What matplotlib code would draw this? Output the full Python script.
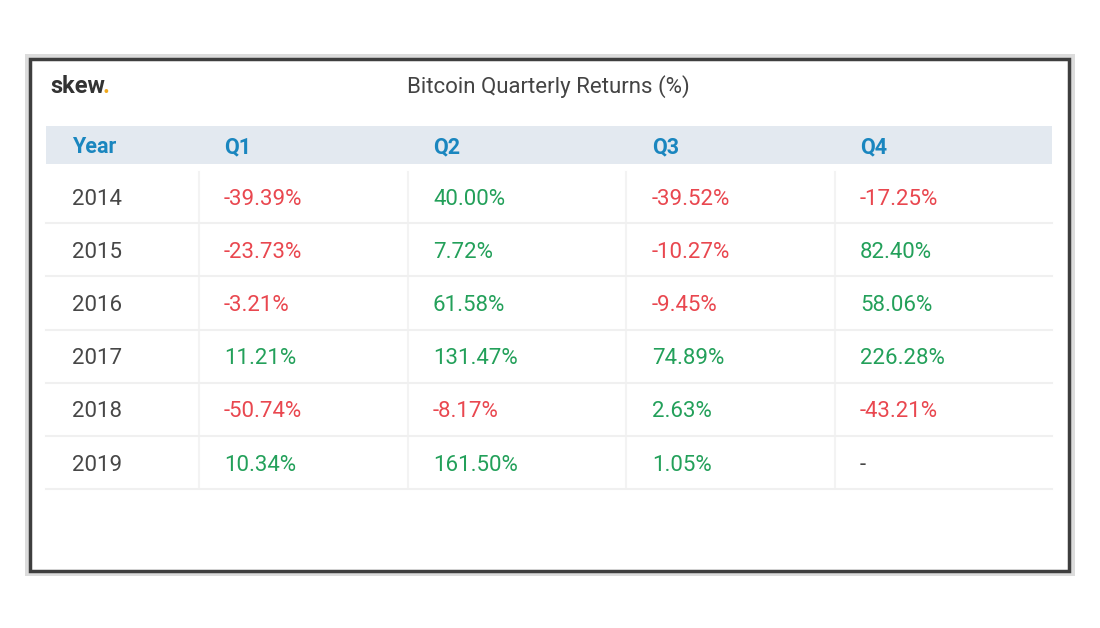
import matplotlib as mpl
import matplotlib.pyplot as plt
from matplotlib.patches import Rectangle

mpl.rcParams['font.family'] = ['Roboto', 'DejaVu Sans']

title = 'Bitcoin Quarterly Returns (%)'
headers = ['Year', 'Q1', 'Q2', 'Q3', 'Q4']
years = ['2014', '2015', '2016', '2017', '2018', '2019']
q1 = [-39.39, -23.73, -3.21, 11.21, -50.74, 10.34]
q2 = [40.00, 7.72, 61.58, 131.47, -8.17, 161.50]
q3 = [-39.52, -10.27, -9.45, 74.89, 2.63, 1.05]
q4 = [-17.25, 82.40, 58.06, 226.28, -43.21, None]

red = '#e9474f'
green = '#23a05a'
blue = '#1a86bf'
grey_txt = '#474747'
fs = 16

fig = plt.figure(figsize=(11, 6.28), dpi=100)
ax = fig.add_axes([0, 0, 1, 1])
ax.set_xlim(0, 1100)
ax.set_ylim(628, 0)
ax.axis('off')

# frame
ax.add_patch(Rectangle((25, 54), 1050, 522, facecolor='#dcdcdc', edgecolor='none'))
ax.add_patch(Rectangle((30, 59), 1039, 512, facecolor='white', edgecolor='#3e3e3e', lw=2.5))

# logo + title
ax.text(50, 93, 'skew', fontsize=17, fontweight='bold', color='#333333', va='baseline', ha='left')
ax.text(103, 93, '.', fontsize=17, fontweight='bold', color='#f0a81c', va='baseline', ha='left')
ax.text(548, 87, title, fontsize=fs, color='#444444', va='center', ha='center')

# header band
col_x = [72, 224, 433, 652, 860]
col_edges = [46, 199, 408, 626, 835, 1052]
ax.add_patch(Rectangle((46, 126), 1006, 38, facecolor='#e3e9f0', edgecolor='none'))
for x, h in zip(col_x, headers):
    ax.text(x, 147, h, fontsize=15.5, fontweight='bold', color=blue, va='center', ha='left')

row_h = 53.2
top = 170
cols = [q1, q2, q3, q4]
for i, yr in enumerate(years):
    y0 = top + i * row_h
    yc = y0 + row_h / 2 + 2.5
    ax.text(col_x[0], yc, yr, fontsize=fs, color=grey_txt, va='center', ha='left')
    for j, col in enumerate(cols):
        v = col[i]
        if v is None:
            ax.text(col_x[j + 1], yc, '-', fontsize=fs, color=grey_txt, va='center', ha='left')
        else:
            ax.text(col_x[j + 1], yc, '%.2f%%' % v, fontsize=fs,
                    color=green if v >= 0 else red, va='center', ha='left')
    ax.plot([46, 1052], [y0 + row_h, y0 + row_h], color='#f0f0f0', lw=1.5)
    for xe in col_edges[1:-1]:
        ax.plot([xe, xe], [y0 + 2, y0 + row_h - 2], color='#f3f3f3', lw=1.5)

fig.savefig('out.png', dpi=100)
